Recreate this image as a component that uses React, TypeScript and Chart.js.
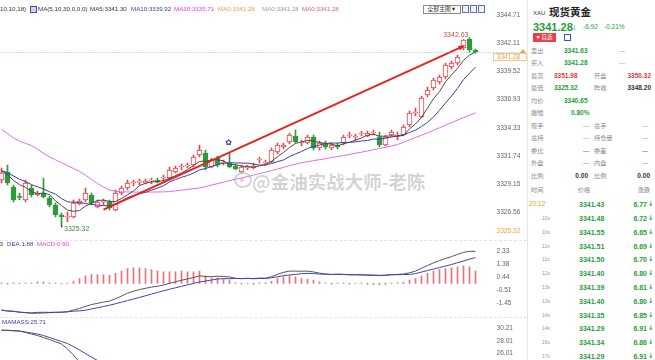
import React, { useEffect, useRef } from 'react';
import { Chart, registerables } from 'chart.js';

Chart.register(...registerables);

// ---------- DATA ----------
const categories = [
  '18:53', '18:54', '18:55', '18:56', '18:57', '18:58', '18:59',
  '19:00', '19:01', '19:02', '19:03', '19:04', '19:05', '19:06', '19:07', '19:08', '19:09',
  '19:10', '19:11', '19:12', '19:13', '19:14', '19:15', '19:16', '19:17', '19:18', '19:19',
  '19:20', '19:21', '19:22', '19:23', '19:24', '19:25', '19:26', '19:27', '19:28', '19:29',
  '19:30', '19:31', '19:32', '19:33', '19:34', '19:35', '19:36', '19:37', '19:38', '19:39',
  '19:40', '19:41', '19:42', '19:43', '19:44', '19:45', '19:46', '19:47', '19:48', '19:49',
  '19:50', '19:51', '19:52', '19:53', '19:54', '19:55', '19:56', '19:57', '19:58', '19:59',
  '20:00', '20:01', '20:02', '20:03', '20:04', '20:05', '20:06', '20:07', '20:08', '20:09',
  '20:10', '20:11', '20:12', '20:13', '20:14',
];

const openValues = [
  3329.53, 3330.27, 3328.89, 3327.97, 3327.69, 3328.79, 3328.15, 3328.33, 3327.87, 3327.23,
  3326.31, 3326.13, 3326.13, 3327.32, 3327.69, 3328.15, 3327.05, 3327.51, 3327.51, 3326.77,
  3328.33, 3328.79, 3329.25, 3329.34, 3329.25, 3329.43, 3329.53, 3329.71, 3329.71, 3330.27,
  3330.73, 3330.82, 3330.91, 3331.83, 3332.01, 3330.73, 3331.55, 3331.09, 3331.09, 3330.82,
  3330.27, 3330.63, 3330.63, 3331.37, 3331.09, 3331.19, 3332.11, 3332.57, 3333.03, 3333.58,
  3332.93, 3332.93, 3333.49, 3332.47, 3332.93, 3332.47, 3332.75, 3332.93, 3333.58, 3333.49,
  3333.76, 3333.58, 3333.85, 3333.49, 3332.75, 3333.67, 3333.58, 3333.67, 3334.59, 3335.69,
  3335.33, 3337.35, 3337.99, 3338.55, 3339.01, 3339.93, 3340.29, 3341.67, 3342.50, 3341.49,
];
const closeValues = [
  3330.17, 3329.25, 3327.69, 3327.93, 3329.25, 3328.15, 3328.33, 3327.97, 3327.23, 3326.31,
  3326.13, 3326.17, 3327.41, 3327.60, 3328.33, 3327.41, 3327.51, 3327.55, 3326.95, 3328.33,
  3328.79, 3329.25, 3329.29, 3329.38, 3329.43, 3329.47, 3329.34, 3329.75, 3330.45, 3330.63,
  3330.77, 3330.86, 3331.65, 3332.29, 3330.73, 3331.37, 3330.91, 3331.13, 3330.73, 3330.54,
  3330.73, 3330.67, 3330.82, 3331.41, 3331.13, 3332.29, 3332.75, 3332.75, 3333.67, 3333.03,
  3332.97, 3333.49, 3332.47, 3332.93, 3332.57, 3332.75, 3332.57, 3333.49, 3333.62, 3333.53,
  3333.80, 3333.85, 3333.89, 3332.75, 3333.49, 3333.95, 3333.62, 3334.41, 3335.69, 3335.73,
  3337.07, 3337.81, 3338.73, 3339.01, 3340.11, 3340.29, 3340.85, 3342.41, 3341.49, 3341.28,
];
const highValues = [
  3330.63, 3330.91, 3329.07, 3328.33, 3329.53, 3329.07, 3328.52, 3329.71, 3328.06, 3327.41,
  3326.49, 3326.59, 3327.69, 3327.78, 3328.79, 3328.33, 3327.69, 3327.78, 3327.69, 3328.61,
  3328.98, 3329.53, 3329.53, 3329.62, 3329.62, 3329.71, 3329.71, 3329.99, 3330.73, 3330.82,
  3331.00, 3331.09, 3331.83, 3332.75, 3332.29, 3331.55, 3331.74, 3331.37, 3332.01, 3331.00,
  3330.91, 3330.91, 3331.09, 3331.65, 3331.37, 3332.47, 3332.93, 3332.93, 3333.85, 3334.13,
  3333.21, 3333.67, 3333.67, 3333.12, 3333.12, 3332.93, 3332.93, 3333.67, 3333.95, 3333.76,
  3334.04, 3334.04, 3334.13, 3333.95, 3333.67, 3334.13, 3333.95, 3334.59, 3335.88, 3336.15,
  3337.26, 3338.09, 3338.91, 3339.19, 3340.29, 3340.48, 3341.03, 3342.45, 3342.63, 3341.58,
];
const lowValues = [
  3329.25, 3329.07, 3327.51, 3327.69, 3327.51, 3327.97, 3328.06, 3327.87, 3327.05, 3326.13,
  3325.32, 3325.67, 3326.03, 3327.23, 3327.51, 3327.23, 3326.95, 3327.23, 3326.77, 3326.68,
  3328.15, 3328.61, 3328.98, 3329.07, 3329.16, 3329.16, 3329.25, 3329.43, 3329.53, 3330.17,
  3330.45, 3330.63, 3330.73, 3331.65, 3330.45, 3330.63, 3330.73, 3330.91, 3330.63, 3330.45,
  3330.17, 3330.45, 3330.54, 3331.09, 3330.82, 3331.09, 3331.92, 3332.38, 3332.84, 3332.93,
  3332.66, 3332.84, 3332.29, 3332.29, 3332.38, 3332.29, 3332.38, 3332.75, 3333.39, 3333.21,
  3333.58, 3333.49, 3333.67, 3332.57, 3332.66, 3333.58, 3333.21, 3333.58, 3334.41, 3335.42,
  3335.23, 3337.17, 3337.81, 3338.36, 3338.82, 3339.74, 3340.11, 3341.49, 3341.30, 3341.20,
];

const ma5Values = [
  3330.40, 3330.00, 3329.50, 3329.10, 3328.86, 3328.45, 3328.27, 3328.33, 3328.19, 3327.60,
  3327.19, 3326.76, 3326.65, 3326.72, 3327.13, 3327.38, 3327.65, 3327.68, 3327.55, 3327.55,
  3327.83, 3328.17, 3328.52, 3329.01, 3329.23, 3329.36, 3329.38, 3329.47, 3329.69, 3329.93,
  3330.19, 3330.49, 3330.87, 3331.24, 3331.26, 3331.38, 3331.39, 3331.29, 3330.97, 3330.94,
  3330.81, 3330.76, 3330.70, 3330.83, 3330.95, 3331.26, 3331.68, 3332.07, 3332.52, 3332.90,
  3333.03, 3333.18, 3333.13, 3332.98, 3332.89, 3332.84, 3332.66, 3332.86, 3333.00, 3333.19,
  3333.40, 3333.66, 3333.74, 3333.56, 3333.56, 3333.59, 3333.54, 3333.64, 3334.23, 3334.68,
  3335.30, 3336.14, 3337.01, 3337.67, 3338.55, 3339.19, 3339.80, 3340.53, 3341.03, 3341.30,
];
const ma10Values = [
  3330.40, 3330.20, 3329.90, 3329.60, 3329.40, 3329.10, 3328.90, 3328.70, 3328.45, 3328.23,
  3327.82, 3327.52, 3327.49, 3327.46, 3327.36, 3327.29, 3327.21, 3327.17, 3327.14, 3327.34,
  3327.61, 3327.91, 3328.10, 3328.28, 3328.39, 3328.60, 3328.78, 3329.00, 3329.35, 3329.58,
  3329.78, 3329.94, 3330.17, 3330.46, 3330.59, 3330.78, 3330.94, 3331.08, 3331.11, 3331.10,
  3331.09, 3331.08, 3330.99, 3330.90, 3330.94, 3331.04, 3331.22, 3331.38, 3331.68, 3331.93,
  3332.15, 3332.43, 3332.60, 3332.75, 3332.89, 3332.94, 3332.92, 3332.99, 3332.99, 3333.04,
  3333.12, 3333.16, 3333.30, 3333.28, 3333.37, 3333.49, 3333.60, 3333.69, 3333.90, 3334.12,
  3334.45, 3334.84, 3335.33, 3335.95, 3336.61, 3337.25, 3337.97, 3338.77, 3339.35, 3339.92,
];
const ma30Values = [
  3334.19, 3333.80, 3333.40, 3333.11, 3332.90, 3332.70, 3332.36, 3332.00, 3331.65, 3331.39,
  3331.13, 3330.86, 3330.59, 3330.31, 3329.98, 3329.59, 3329.20, 3328.89, 3328.61, 3328.50,
  3328.44, 3328.43, 3328.42, 3328.42, 3328.42, 3328.42, 3328.43, 3328.44, 3328.46, 3328.53,
  3328.59, 3328.66, 3328.73, 3328.79, 3328.93, 3329.06, 3329.20, 3329.33, 3329.47, 3329.60,
  3329.72, 3329.85, 3329.98, 3330.12, 3330.25, 3330.39, 3330.54, 3330.69, 3330.85, 3330.99,
  3331.12, 3331.21, 3331.31, 3331.40, 3331.49, 3331.59, 3331.69, 3331.78, 3331.88, 3331.99,
  3332.09, 3332.20, 3332.32, 3332.43, 3332.54, 3332.66, 3332.79, 3333.01, 3333.22, 3333.44,
  3333.65, 3333.87, 3334.10, 3334.33, 3334.57, 3334.80, 3335.04, 3335.27, 3335.50, 3335.71,
];

// hand-drawn trend line: anchor candles and their prices
const trendIndexes = [17, 77];
const trendPrices = [3326.80, 3341.85];

const mainTicks = [3344.71, 3342.11, 3339.52, 3336.93, 3334.33, 3331.74, 3329.15, 3326.56];
const lastPrice = 3341.28;
const dayLowLabel = '3325.32';

const difValues = [
  -1.92, -2.01, -2.01, -2.09, -2.11, -2.14, -2.10, -2.09, -2.10, -2.09,
  -2.09, -2.05, -1.93, -1.81, -1.66, -1.53, -1.44, -1.35, -1.28, -1.11,
  -0.91, -0.70, -0.56, -0.44, -0.35, -0.26, -0.20, -0.11, 0.01, 0.12,
  0.24, 0.33, 0.43, 0.56, 0.50, 0.50, 0.53, 0.51, 0.47, 0.38,
  0.35, 0.38, 0.34, 0.39, 0.39, 0.50, 0.67, 0.81, 0.90, 0.90,
  0.89, 0.90, 0.84, 0.75, 0.70, 0.65, 0.68, 0.67, 0.63, 0.64,
  0.64, 0.60, 0.59, 0.57, 0.59, 0.65, 0.66, 0.69, 0.78, 0.90,
  1.11, 1.31, 1.50, 1.67, 1.82, 1.95, 2.12, 2.26, 2.34, 2.33,
];
const deaValues = [
  -1.94, -1.99, -2.03, -2.08, -2.12, -2.16, -2.16, -2.14, -2.12, -2.10,
  -2.08, -2.06, -2.01, -1.99, -1.94, -1.85, -1.76, -1.67, -1.58, -1.47,
  -1.36, -1.24, -1.13, -1.01, -0.89, -0.77, -0.65, -0.53, -0.42, -0.31,
  -0.21, -0.10, 0.00, 0.11, 0.18, 0.25, 0.33, 0.35, 0.35, 0.36,
  0.36, 0.36, 0.37, 0.37, 0.36, 0.42, 0.49, 0.57, 0.62, 0.66,
  0.71, 0.74, 0.72, 0.69, 0.67, 0.66, 0.66, 0.65, 0.64, 0.63,
  0.62, 0.62, 0.61, 0.60, 0.61, 0.63, 0.64, 0.65, 0.66, 0.72,
  0.83, 0.94, 1.05, 1.16, 1.27, 1.38, 1.51, 1.64, 1.77, 1.88,
];
const macdValues = [
  0.05, -0.03, 0.04, -0.02, 0.03, 0.05, 0.12, 0.10, 0.04, 0.03,
  -0.02, 0.02, 0.17, 0.36, 0.56, 0.65, 0.65, 0.65, 0.60, 0.73,
  0.90, 1.09, 1.14, 1.14, 1.09, 1.02, 0.90, 0.85, 0.85, 0.85,
  0.90, 0.85, 0.85, 0.90, 0.56, 0.41, 0.41, 0.31, 0.24, 0.05,
  -0.03, 0.03, -0.04, 0.04, 0.05, 0.15, 0.36, 0.48, 0.56, 0.48,
  0.36, 0.31, 0.24, 0.12, 0.05, -0.03, 0.03, 0.04, -0.03, 0.02,
  0.04, -0.05, -0.04, -0.06, -0.05, 0.03, 0.04, 0.08, 0.24, 0.36,
  0.56, 0.73, 0.90, 1.02, 1.09, 1.14, 1.21, 1.28, 1.21, 0.90,
];
const macdTicks = [2.33, 1.38, 0.44, -0.51, -1.45];

const massValues = [29.87, 29.83, 29.78, 29.75, 29.49, 29.23, 28.97, 28.63, 28.28, 27.90, 27.51, 26.65, 25.61, 24.41, 23.38];
const maMassValues = [29.92, 29.88, 29.83, 29.75, 29.57, 29.40, 29.23, 28.97, 28.63, 28.28, 27.94, 27.59, 27.08, 26.47, 25.87, 25.27, 24.67, 24.07];
const massTicks = [30.21, 28.01, 26.01];

const tickTimes = ['20:12', '10s', '10s', '11s', '11s', '12s', '13s', '13s', '14s', '14s', '16s', '17s'];
const tickPrices = ['3341.43', '3341.48', '3341.55', '3341.51', '3341.50', '3341.40', '3341.39', '3341.40', '3341.35', '3341.29', '3341.34', '3341.29'];
const tickChanges = ['6.77', '6.72', '6.65', '6.69', '6.70', '6.80', '6.81', '6.80', '6.85', '6.91', '6.86', '6.91'];

// ---------- STYLE ----------
const FONT = '"Liberation Sans", Arial, "Noto Sans CJK SC", sans-serif';
const RED = '#e4464c';
const GREEN = '#2f9a3a';
const QGREEN = '#1f9e3a';
const QRED = '#e5393a';

type TP = { x: number; y: number; s?: number; c?: string; b?: boolean; a?: 'l' | 'r' | 'c'; f?: string; children: React.ReactNode };
const T = ({ x, y, s = 6.2, c = '#333', b = false, a = 'l', f, children }: TP) => (
  <span
    style={{
      position: 'absolute', left: x, top: y, fontSize: s, color: c, fontWeight: b ? 700 : 400,
      lineHeight: 1, whiteSpace: 'nowrap', fontFamily: f || FONT,
      transform: a === 'l' ? 'translateY(-50%)' : a === 'r' ? 'translate(-100%,-50%)' : 'translate(-50%,-50%)',
    }}
  >
    {children}
  </span>
);

const mainDecor = {
  id: 'mainDecor',
  afterDatasetsDraw(chart: any) {
    const { ctx, chartArea, scales } = chart;
    const xs = scales.x;
    const ys = scales.y;
    ctx.save();
    // arrow head of the trend line
    const ax0 = xs.getPixelForValue(trendIndexes[0]);
    const ay0 = ys.getPixelForValue(trendPrices[0]);
    const ax1 = xs.getPixelForValue(trendIndexes[1]);
    const ay1 = ys.getPixelForValue(trendPrices[1]);
    const ang = Math.atan2(ay1 - ay0, ax1 - ax0);
    ctx.fillStyle = '#e8231f';
    ctx.beginPath();
    ctx.moveTo(ax1 + 2 * Math.cos(ang), ay1 + 2 * Math.sin(ang));
    ctx.lineTo(ax1 - 5 * Math.cos(ang) + 2.5 * Math.sin(ang), ay1 - 5 * Math.sin(ang) - 2.5 * Math.cos(ang));
    ctx.lineTo(ax1 - 5 * Math.cos(ang) - 2.5 * Math.sin(ang), ay1 - 5 * Math.sin(ang) + 2.5 * Math.cos(ang));
    ctx.closePath();
    ctx.fill();

    // current price line
    const py = Math.round(ys.getPixelForValue(lastPrice)) + 0.5;
    ctx.strokeStyle = '#72bfe9';
    ctx.lineWidth = 1;
    ctx.setLineDash([1, 2]);
    ctx.beginPath();
    ctx.moveTo(chartArea.left, py);
    ctx.lineTo(chart.width - 6, py);
    ctx.stroke();
    ctx.setLineDash([]);
    ctx.fillStyle = '#f4a53c';
    ctx.beginPath();
    ctx.moveTo(chart.width - 5, py - 3.5);
    ctx.lineTo(chart.width - 2, py + 0.5);
    ctx.lineTo(chart.width - 8, py + 0.5);
    ctx.closePath();
    ctx.fill();
    const bx = chartArea.right + 2.5;
    const by = py + 0.5;
    ctx.fillStyle = '#fff';
    ctx.fillRect(bx, by, 34, 8);
    ctx.strokeStyle = '#f6c48a';
    ctx.strokeRect(bx + 0.5, by + 0.5, 33, 7);
    ctx.fillStyle = '#f0a040';
    ctx.font = '6.4px "Liberation Sans"';
    ctx.textBaseline = 'middle';
    ctx.textAlign = 'left';
    ctx.fillText(lastPrice.toFixed(2), bx + 4, by + 4.5);

    // high / low markers
    let hi = 0;
    let lo = 0;
    highValues.forEach((v, i) => { if (v > highValues[hi]) hi = i; });
    lowValues.forEach((v, i) => { if (v < lowValues[lo]) lo = i; });
    const hx = xs.getPixelForValue(hi);
    const hy = ys.getPixelForValue(highValues[hi]);
    ctx.font = '7px "Liberation Sans"';
    ctx.fillStyle = '#c0504d';
    ctx.textAlign = 'right';
    ctx.fillText(highValues[hi].toFixed(2), hx - 1, hy - 3);
    const lx = xs.getPixelForValue(lo);
    const ly = ys.getPixelForValue(lowValues[lo]);
    ctx.fillStyle = '#333';
    ctx.fillRect(lx - 0.5, ly, 1.5, 1.5);
    ctx.fillStyle = '#3a8a3a';
    ctx.textAlign = 'left';
    ctx.fillText(lowValues[lo].toFixed(2), lx + 2.5, ly + 3);

    // signal mark over candle 38
    const sx = xs.getPixelForValue(38);
    const sy = ys.getPixelForValue(highValues[38]);
    ctx.font = '8px "DejaVu Sans"';
    ctx.fillStyle = '#2b3d9b';
    ctx.textAlign = 'center';
    ctx.fillText('✿', sx - 1, sy - 10);

    // bottom axis tag
    ctx.font = '6.6px "Liberation Sans"';
    ctx.fillStyle = '#f0a040';
    ctx.textAlign = 'left';
    ctx.fillText(dayLowLabel, chartArea.right + 6, chartArea.bottom - 9);
    ctx.restore();
  },
};

export default function App() {
  const mainRef = useRef<HTMLCanvasElement>(null);
  const macdRef = useRef<HTMLCanvasElement>(null);
  const massRef = useRef<HTMLCanvasElement>(null);

  useEffect(() => {
    const up = closeValues.map((c, i) => c >= openValues[i]);
    const trendValues = categories.map((_, i) => {
      const k = trendIndexes.indexOf(i);
      return k >= 0 ? trendPrices[k] : null;
    });

    const yAxis = (min: number, max: number, ticks: number[]) => ({
      position: 'right',
      min,
      max,
      afterBuildTicks: (s: any) => { s.ticks = ticks.map((v) => ({ value: v })); },
      afterFit: (s: any) => { s.width = 37.5; s.paddingTop = 0; s.paddingBottom = 0; },
      grid: { display: false, drawTicks: false },
      border: { display: false },
      ticks: {
        autoSkip: false, padding: 6, color: '#666',
        font: { size: 6.6, family: 'Liberation Sans' },
        callback: (v: any) => Number(v).toFixed(2),
      },
    });
    const xAxis = { display: false, offset: true, grid: { display: false } };
    const common: any = {
      animation: false, responsive: false, devicePixelRatio: 1, events: [],
      layout: { padding: { left: 0.5, right: 0, top: 0, bottom: 0 } },
      plugins: { legend: { display: false }, tooltip: { enabled: false } },
    };

    const main = new Chart(mainRef.current!, {
      type: 'bar',
      data: {
        labels: categories,
        datasets: [
          { type: 'bar', data: lowValues.map((l, i) => [l, highValues[i]]), backgroundColor: up.map((u) => (u ? RED : GREEN)), barThickness: 1, grouped: false, order: 6 } as any,
          { type: 'bar', data: openValues.map((o, i) => [o, closeValues[i]]), backgroundColor: up.map((u) => (u ? '#ffffff' : GREEN)), borderColor: up.map((u) => (u ? RED : GREEN)), borderWidth: 1, borderSkipped: false, barThickness: 5, minBarLength: 1, grouped: false, order: 5 } as any,
          { type: 'line', data: ma30Values, borderColor: '#e36be3', borderWidth: 1, pointRadius: 0, order: 4 } as any,
          { type: 'line', data: ma10Values, borderColor: '#3a3f9e', borderWidth: 1, pointRadius: 0, order: 3 } as any,
          { type: 'line', data: ma5Values, borderColor: '#4a4a4a', borderWidth: 1, pointRadius: 0, order: 2 } as any,
          { type: 'line', data: trendValues, borderColor: '#e8231f', borderWidth: 2, pointRadius: 0, spanGaps: true, order: 1 } as any,
        ],
      },
      options: { ...common, scales: { x: xAxis, y: yAxis(3324.01, 3346.09, mainTicks) } },
      plugins: [mainDecor],
    });

    const macd = new Chart(macdRef.current!, {
      type: 'bar',
      data: {
        labels: categories,
        datasets: [
          { type: 'bar', data: macdValues, backgroundColor: macdValues.map((v) => (v >= 0 ? '#e8707a' : GREEN)), barThickness: 1, grouped: false, order: 3 } as any,
          { type: 'line', data: difValues, borderColor: '#555', borderWidth: 1, pointRadius: 0, order: 2 } as any,
          { type: 'line', data: deaValues, borderColor: '#3f43b0', borderWidth: 1, pointRadius: 0, order: 1 } as any,
        ],
      },
      options: { ...common, scales: { x: xAxis, y: yAxis(-2.435, 3.161, macdTicks) } },
    });

    const mass = new Chart(massRef.current!, {
      type: 'line',
      data: {
        labels: categories,
        datasets: [
          { data: massValues, borderColor: '#555', borderWidth: 1, pointRadius: 0 },
          { data: maMassValues, borderColor: '#3f43b0', borderWidth: 1, pointRadius: 0 },
        ],
      },
      options: { ...common, scales: { x: xAxis, y: yAxis(24.76, 32.16, massTicks) } },
    });

    return () => { main.destroy(); macd.destroy(); mass.destroy(); };
  }, []);

  const rowY = [204, 217.8, 231.7, 245.6, 259.4, 273.2, 287, 300.8, 314.6, 328.4, 342.2, 356];

  return (
    <div style={{ position: 'fixed', left: 0, top: 0, width: 655, height: 360, overflow: 'hidden', background: '#fff', fontFamily: FONT }}>
      <canvas ref={mainRef} width={530} height={240} style={{ position: 'absolute', left: -2, top: 0, width: 530, height: 240 }} />
      <canvas ref={macdRef} width={530} height={77} style={{ position: 'absolute', left: -2, top: 240, width: 530, height: 77 }} />
      <canvas ref={massRef} width={530} height={43} style={{ position: 'absolute', left: -2, top: 317, width: 530, height: 43 }} />

      {/* panel separators */}
      <div style={{ position: 'absolute', left: 0, top: 240, width: 527, borderTop: '1px dashed #e4e4e4' }} />
      <div style={{ position: 'absolute', left: 0, top: 317, width: 527, borderTop: '1px dashed #e4e4e4' }} />

      {/* main legend */}
      <T x={0} y={9}>10,10,18)</T>
      <span style={{ position: 'absolute', left: 30, top: 6, width: 5, height: 5, border: '1px solid #5a4a9a', background: '#d6cff2' }} />
      <T x={38} y={9}>MA(5,10,30,0,0,0)</T>
      <T x={90} y={9}>MA5:3341.30</T>
      <T x={131} y={9} c="#3a3f9e">MA10:3339.92</T>
      <T x={174} y={9} c="#e040e0">MA30:3335.71</T>
      <T x={218} y={9} c="#f0a040">MA0:3341.28</T>
      <T x={262} y={9} c="#9a9a9a">MA0:3341.28</T>
      <T x={302} y={9} c="#e06070">MA0:3341.28</T>

      {/* toolbar */}
      <div style={{ position: 'absolute', left: 423, top: 5, width: 36, height: 7, border: '1px solid #8a8a8a', fontSize: 5.8, lineHeight: '7px', color: '#333', textAlign: 'center', whiteSpace: 'nowrap' }}>全部主图▼</div>
      {[462, 470, 478].map((x) => (
        <span key={x} style={{ position: 'absolute', left: x, top: 5, width: 5, height: 6, border: '1px solid #5b6fc0', background: '#eef1fb' }} />
      ))}

      {/* watermark */}
      <div style={{ position: 'absolute', left: 234, top: 172, width: 14, height: 12, borderRadius: '50%', border: '2px solid rgba(170,170,170,0.5)' }} />
      <div style={{ position: 'absolute', left: 240, top: 178, width: 4, height: 4, borderRadius: '50%', background: 'rgba(170,170,170,0.5)' }} />
      <T x={252} y={180.5} s={18.5} b c="rgba(160,160,160,0.45)" f='"Noto Sans CJK SC", sans-serif'>@金油实战大师-老陈</T>

      {/* MACD header */}
      <span style={{ position: 'absolute', right: 652, top: 244, transform: 'translateY(-50%)', fontSize: 6.2, lineHeight: 1, color: '#333', whiteSpace: 'nowrap' }}>MACD(12,26,9) DIF:2.33</span>
      <T x={7} y={244} c="#3a3f9e">DEA:1.88</T>
      <T x={37} y={244} c="#e040e0">MACD:0.90</T>

      {/* MASS header */}
      <T x={2} y={322} c="#3a3f9e">MAMASS:25.71</T>

      {/* right quote panel */}
      <div style={{ position: 'absolute', left: 527, top: 0, width: 128, height: 360, background: '#fff', borderLeft: '1px solid #e6e6e6' }}>
        <div style={{ position: 'absolute', left: 0, top: 0, width: 127, height: 360 }}>
          <T x={5} y={12.5} s={6} c="#333">XAU</T>
          <T x={21} y={12} s={10.5} b c="#222" f='"Noto Sans CJK SC", sans-serif'>现货黄金</T>
          <T x={5} y={26.5} s={11} b c={QGREEN}>3341.28</T>
          <T x={44} y={26.5} s={9} b c={QGREEN}>↓</T>
          <T x={55} y={27} s={6.5} c={QGREEN}>-6.92</T>
          <T x={76} y={27} s={6.5} c={QGREEN}>-0.21%</T>
          <div style={{ position: 'absolute', left: 5, top: 33, width: 23, height: 9, background: '#e8404a', color: '#fff', fontSize: 5.5, lineHeight: '9px', textAlign: 'center', whiteSpace: 'nowrap' }}>♥ 自选</div>
          <div style={{ position: 'absolute', left: 36, top: 34, width: 5, height: 5, border: '1.5px solid #3355cc', background: '#fff' }} />

          <T x={3} y={50.5} c="#888">卖出</T>
          <T x={36} y={50.5} s={6.5} b c={QGREEN}>3341.63</T>
          <T x={91} y={50.5} c="#888">—</T>
          <T x={3} y={63} c="#888">买入</T>
          <T x={36} y={63} s={6.5} b c={QGREEN}>3341.28</T>
          <T x={91} y={63} c="#888">—</T>

          <T x={3} y={75.7} c="#888">最高</T>
          <T x={26} y={75.7} s={6.5} b c={QRED}>3351.98</T>
          <T x={66} y={75.7} c="#888">开盘</T>
          <T x={123} y={75.7} s={6.5} b c={QRED} a="r">3350.32</T>
          <T x={3} y={88.3} c="#888">最低</T>
          <T x={26} y={88.3} s={6.5} b c={QGREEN}>3325.32</T>
          <T x={66} y={88.3} c="#888">昨收</T>
          <T x={123} y={88.3} s={6.5} b c="#333" a="r">3348.20</T>
          <T x={3} y={100.7} c="#888">均价</T>
          <T x={36} y={100.7} s={6.5} b c={QGREEN}>3340.65</T>
          <T x={3} y={113.3} c="#888">振幅</T>
          <T x={43} y={113.3} s={6.5} b c={QGREEN}>0.80%</T>
          <T x={3} y={125.5} c="#888">现手</T>
          <T x={55} y={125.5} c="#888">—</T>
          <T x={66} y={125.5} c="#888">总手</T>
          <T x={114} y={125.5} c="#888">—</T>
          <T x={3} y={138.3} c="#888">总持</T>
          <T x={55} y={138.3} c="#888">—</T>
          <T x={66} y={138.3} c="#888">持仓量</T>
          <T x={114} y={138.3} c="#888">—</T>
          <T x={3} y={150.5} c="#888">委比</T>
          <T x={55} y={150.5} c="#333">—</T>
          <T x={66} y={150.5} c="#888">委差</T>
          <T x={114} y={150.5} c="#333">—</T>
          <T x={3} y={163.3} c="#888">外盘</T>
          <T x={55} y={163.3} c={QRED}>—</T>
          <T x={66} y={163.3} c="#888">内盘</T>
          <T x={114} y={163.3} c={QGREEN}>—</T>
          <T x={3} y={175.7} c="#888">比例</T>
          <T x={60} y={175.7} s={6.5} b c="#333" a="r">0.00</T>
          <T x={66} y={175.7} c="#888">比例</T>
          <T x={122} y={175.7} s={6.5} b c="#333" a="r">0.00</T>

          <T x={3} y={189.5} c="#888">时间</T>
          <T x={56} y={189.5} c="#888" a="c">价格</T>
          <T x={116} y={189.5} c="#888" a="c">涨跌</T>

          {rowY.map((y, i) => (
            <React.Fragment key={i}>
              {i === 0
                ? <T x={1} y={y} s={6.5} c="#f0a030">{tickTimes[i]}</T>
                : <T x={14} y={y} s={5} c="#999">{tickTimes[i]}</T>}
              <T x={51} y={y} s={7} b c={QGREEN}>{tickPrices[i]}</T>
              <T x={119} y={y} s={7} b c={QGREEN} a="r">{tickChanges[i]}</T>
              <T x={120} y={y} s={6.5} b c={QGREEN} f='"DejaVu Sans", sans-serif'>↓</T>
            </React.Fragment>
          ))}
        </div>
      </div>
    </div>
  );
}
